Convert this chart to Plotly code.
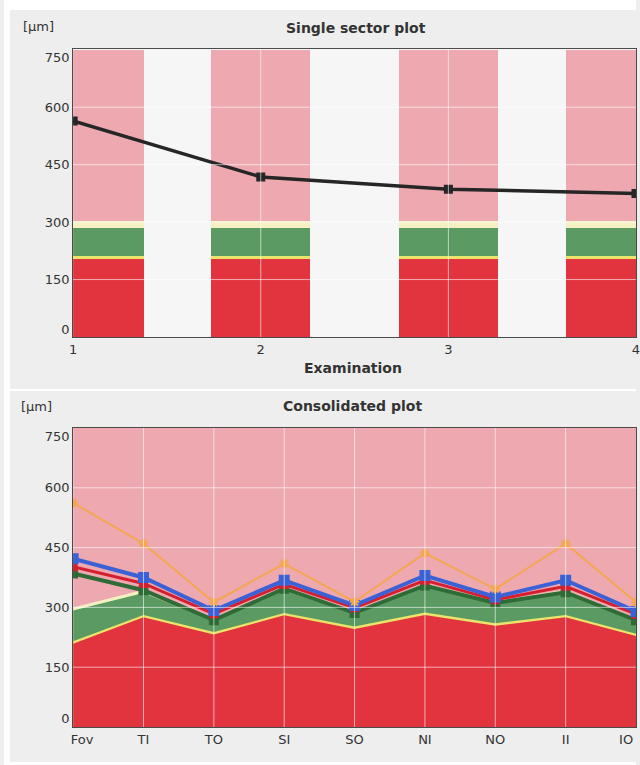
import plotly.graph_objects as go

# ---------------- data ----------------
exams = [1, 2, 3, 4]
fov_thickness = [564, 418, 386, 375]

# normative band boundaries for the single sector (Fov)
single_red_top = 203
single_yellow_top = 212
single_green_top = 284
single_pale_top = 302
axis_top = 750

sectors = ["Fov", "TI", "TO", "SI", "SO", "NI", "NO", "II", "IO"]
lower_limit = [209, 275, 232, 280, 246, 281, 254, 275, 228]
upper_limit = [292, 336, 265, 342, 282, 352, 308, 336, 265]
exam1 = [562, 460, 313, 410, 314, 436, 346, 460, 313]
exam2 = [422, 375, 292, 368, 305, 380, 326, 368, 290]
exam3 = [402, 360, 284, 358, 299, 368, 319, 353, 283]
exam4 = [385, 343, 268, 347, 286, 355, 311, 338, 268]

y_ticks = [0, 150, 300, 450, 600, 750]
y_tick_text = ["0", "150", "300", "450", "600", "750"]

# ---------------- styles ----------------
PINK = "#eea8b0"
PALE = "#f4f0c2"
GREEN = "#5b9b63"
YELLOW = "#ece46a"
RED = "#e2343f"
GAP = "#f6f6f6"
PAPER = "#eeeeee"
GRID = "rgba(255,255,255,0.6)"
FONT = "DejaVu Sans"
TXT = "#333333"
bar_widths = [0.76, 0.53, 0.53, 0.75]

W, H = 640, 765
top_dom = [(H - 337) / H, (H - 49) / H]
bot_dom = [(H - 727) / H, (H - 428) / H]
x_dom = [70 / W, 1.0]

fig = go.Figure()

# ---------------- top chart: bars ----------------
bounds = [0, single_red_top, single_yellow_top, single_green_top, single_pale_top, axis_top]
seg_colors = [RED, YELLOW, GREEN, PALE, PINK]
for i, col in enumerate(seg_colors):
    h = bounds[i + 1] - bounds[i]
    fig.add_trace(go.Bar(
        x=exams, y=[h] * len(exams), base=[bounds[i]] * len(exams),
        width=bar_widths, marker=dict(color=col, line=dict(width=0)),
        xaxis="x", yaxis="y", showlegend=False, hoverinfo="skip"))

fig.add_trace(go.Scatter(
    x=exams, y=fov_thickness, mode="lines+markers",
    line=dict(color="#262626", width=3.5),
    marker=dict(symbol="square", size=9, color="#262626"),
    xaxis="x", yaxis="y", showlegend=False))

# ---------------- bottom chart: bands ----------------
xs = list(range(len(sectors)))
yellow_top = [v + 6 for v in lower_limit]
pale_top = [v + 8 for v in upper_limit]
layers = [
    ([axis_top] * len(xs), PINK),
    (pale_top, PALE),
    (upper_limit, GREEN),
    (yellow_top, YELLOW),
    (lower_limit, RED),
]
for ys, col in layers:
    fig.add_trace(go.Scatter(
        x=xs, y=ys, mode="lines", fill="tozeroy", fillcolor=col,
        line=dict(width=0, color=col), xaxis="x2", yaxis="y2",
        showlegend=False, hoverinfo="skip"))

line_specs = [
    (exam4, "#2e6b37", 4, "square", 8),
    (exam3, "#d4202e", 3, "square", 7),
    (exam2, "#3a62d6", 4, "square", 9),
    (exam1, "#f4a652", 2, "asterisk-open", 8),
]
for ys, col, lw, sym, ms in line_specs:
    fig.add_trace(go.Scatter(
        x=xs, y=ys, mode="lines+markers",
        line=dict(color=col, width=lw),
        marker=dict(symbol=sym, size=ms, color=col, line=dict(color=col, width=2)),
        xaxis="x2", yaxis="y2", showlegend=False))

# ---------------- grid lines (drawn above fills) ----------------
shapes = []
for v in y_ticks[1:-1]:
    shapes.append(dict(type="line", xref="x domain", yref="y", x0=0, x1=1, y0=v, y1=v,
                       line=dict(color=GRID, width=1), layer="above"))
    shapes.append(dict(type="line", xref="x2 domain", yref="y2", x0=0, x1=1, y0=v, y1=v,
                       line=dict(color=GRID, width=1), layer="above"))
for e in exams[1:-1]:
    shapes.append(dict(type="line", xref="x", yref="y domain", x0=e, x1=e, y0=0, y1=1,
                       line=dict(color=GRID, width=1), layer="above"))
for i in xs[1:-1]:
    shapes.append(dict(type="line", xref="x2", yref="y2 domain", x0=i, x1=i, y0=0, y1=1,
                       line=dict(color=GRID, width=1), layer="above"))
# white strips of the scanned page
shapes.append(dict(type="rect", xref="paper", yref="paper", x0=0, x1=1, y0=(H - 10) / H, y1=1,
                   fillcolor="white", line=dict(width=0), layer="below"))
shapes.append(dict(type="rect", xref="paper", yref="paper", x0=0, x1=6 / W, y0=0, y1=1,
                   fillcolor="white", line=dict(width=0), layer="below"))
shapes.append(dict(type="rect", xref="paper", yref="paper", x0=0, x1=1, y0=(H - 391) / H, y1=(H - 389) / H,
                   fillcolor="white", line=dict(width=0), layer="below"))
shapes.append(dict(type="rect", xref="paper", yref="paper", x0=0, x1=1, y0=0, y1=3 / H,
                   fillcolor="white", line=dict(width=0), layer="below"))

# tick label positions: end labels pulled inward like the original software
def y_label_pos(ticks, nudge):
    out = list(ticks)
    out[0] = ticks[0] + nudge
    out[-1] = ticks[-1] - nudge
    return out

x2_label_pos = list(xs)
x2_label_pos[0] = xs[0] + 0.126
x2_label_pos[-1] = xs[-1] - 0.14

axis_common = dict(showgrid=False, zeroline=False, showline=True, linecolor="#4a4a4a",
                   linewidth=1, mirror=True, ticks="", tickfont=dict(family=FONT, size=13, color=TXT))

def ann(text, x, y, size=12):
    return dict(text=text, xref="paper", yref="paper", x=x / W, y=(H - y) / H,
                xanchor="center", yanchor="middle", showarrow=False,
                font=dict(family=FONT, size=size, color=TXT))

fig.update_layout(
    width=W, height=H, margin=dict(l=0, r=0, t=0, b=0),
    paper_bgcolor=PAPER, plot_bgcolor=GAP, barmode="overlay", bargap=0,
    xaxis=dict(domain=x_dom, anchor="y", range=[1, 4], tickvals=exams,
               ticktext=[str(e) for e in exams], ticklabeloverflow="allow", **axis_common),
    yaxis=dict(domain=top_dom, anchor="x", range=[0, 752],
               tickvals=y_label_pos(y_ticks, 21), ticktext=y_tick_text, **axis_common),
    xaxis2=dict(domain=x_dom, anchor="y2", range=[0, len(xs) - 1], tickvals=x2_label_pos,
                ticktext=sectors, **axis_common),
    yaxis2=dict(domain=bot_dom, anchor="x2", range=[0, 750],
                tickvals=y_label_pos(y_ticks, 22), ticktext=y_tick_text, **axis_common),
    shapes=shapes,
    annotations=[
        ann("<b>Single sector plot</b>", 356, 28, 14),
        ann("[µm]", 35, 27, 13),
        ann("<b>Examination</b>", 353, 368, 14),
        ann("<b>Consolidated plot</b>", 353, 406, 14),
        ann("[µm]", 33, 406, 13),
    ],
)

fig.write_html("out.html", config={"displayModeBar": False},
               post_script="document.body.style.margin='0';document.body.style.overflow='hidden';")
